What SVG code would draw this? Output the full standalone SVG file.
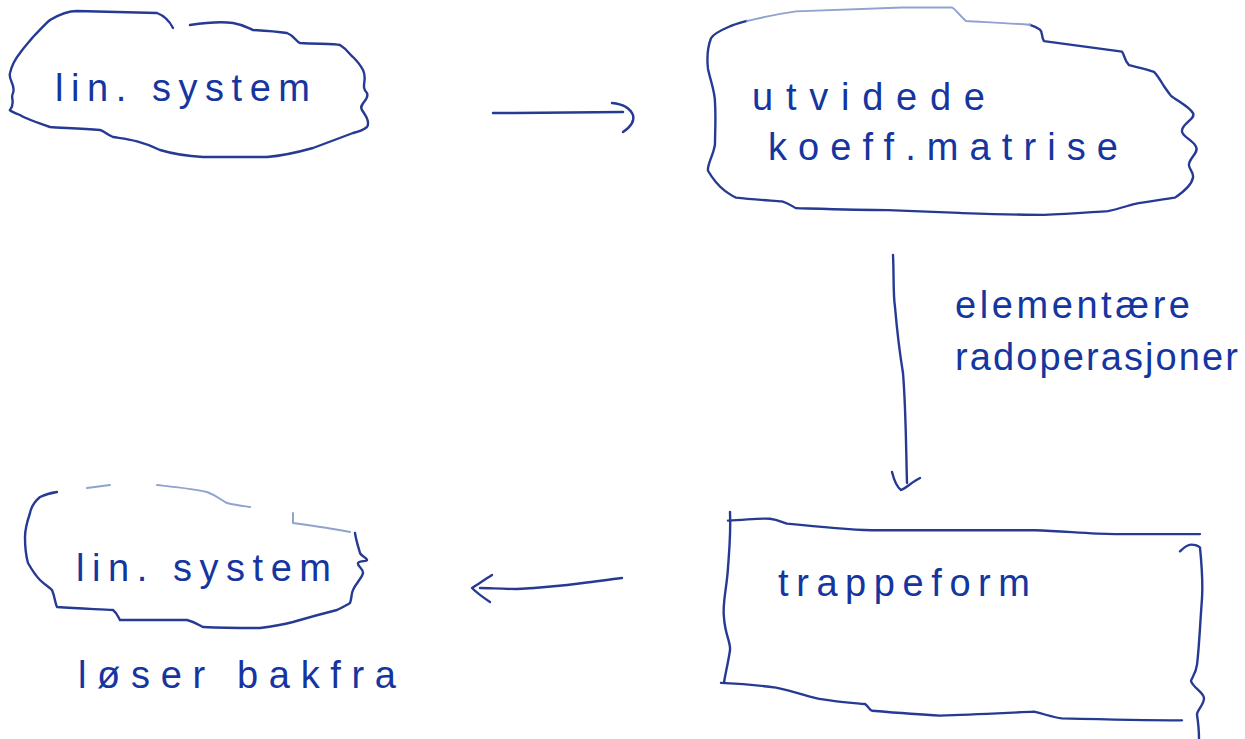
<svg xmlns="http://www.w3.org/2000/svg" width="1245" height="739" viewBox="0 0 1245 739">
<style>
.o{fill:none;stroke:#263a94;stroke-width:2.4;stroke-linecap:round;stroke-linejoin:round}
.f{fill:none;stroke:#8fa2d0;stroke-width:2;stroke-linecap:round}
.t{font-family:"Liberation Sans",Arial,sans-serif;font-size:38px;fill:#1535a0}
</style>
<rect width="1245" height="739" fill="#ffffff"/>
<g id="node-lin-system-1">
<path class="o" d="M50,20 C60,14 70,11 77,11 L157,13 C165,16 170,22 173,28 M190,25 C210,22 225,22 233,23 C245,25 250,29 253,30 C270,31 280,32 287,33 C295,36 296,42 300,43 C320,44 335,44 340,45 C348,50 350,55 353,57 C358,62 361,66 363,70 C368,80 360,86 367,93 C370,100 358,104 362,110 C366,116 370,122 367,127 C362,131 357,132 353,133 L313,148 C295,153 280,156 267,157 L203,157 C185,156 170,153 160,150 C140,140 125,139 113,137 C106,134 104,131 100,130 C80,128 60,128 50,127 C35,122 25,118 20,115 C12,112 9,110 10,110 C16,103 10,98 13,93 C16,85 8,80 10,73 C12,64 16,58 20,53 C25,46 30,41 33,37 C40,30 45,24 50,20"/>
<text class="t" x="55" y="101" textLength="255" lengthAdjust="spacing">lin. system</text>
</g>
<g id="node-utvidede">
<g transform="matrix(1,0,0,0.96,0,0.8)">
<path class="o" d="M747,21 C740,23 733,25 729,27 C720,31 713,35 711,39 C707,50 707,62 708,71 C711,85 715,95 715,106 C716,122 715,137 715,149 C714,160 707,170 708,177 C713,186 720,194 725,198 C729,201 733,204 736,205 C752,207 770,208 782,209 C789,211 792,214 796,216 C830,217 860,218 888,218 C915,219 940,220 959,221 C990,222 1020,223 1044,223 C1070,222 1092,220 1108,219 C1118,217 1126,214 1133,212 C1148,209 1163,207 1175,205 C1185,198 1192,190 1193,184 C1194,178 1188,175 1189,170 C1190,163 1199,158 1196,152 C1193,145 1181,141 1182,135 C1183,127 1196,123 1193,117 C1189,110 1177,104 1171,99 C1168,95 1166,92 1164,89 C1160,82 1157,77 1154,74 C1145,71 1136,69 1129,67 C1124,62 1125,57 1122,53 C1095,49 1065,45 1044,42 C1041,37 1043,33 1040,30 C1036,27 1033,26 1030,25"/>
<path class="f" d="M1030,25 C1005,23 980,22 966,21 C960,16 957,10 952,7 L902,7 L796,11 C775,14 760,18 747,21"/>
</g>
<text class="t" x="752" y="110" textLength="233" lengthAdjust="spacing">utvidede</text>
<text class="t" x="768" y="160" textLength="350" lengthAdjust="spacing">koeff.matrise</text>
</g>
<g id="node-trappeform">
<g transform="matrix(1,0,0,0.96,0,20.5)">
<path class="o" d="M728,521 C748,520 762,518 770,519 C778,520 783,523 787,524 C815,527 845,530 872,531 L1035,531 C1065,532 1090,535 1115,535 L1200,535"/>
<path class="o" d="M730,512 C731,535 729,555 728,570 C727,590 722,608 724,622 C725,640 731,648 730,656 C728,670 725,682 724,690"/>
<path class="o" d="M721,690 C742,691 762,693 776,695 C795,699 810,705 821,707 C838,710 855,711 865,712 C869,715 869,718 872,719 C895,721 920,723 940,724 C975,723 1010,721 1034,720 C1046,723 1054,726 1062,727 C1100,728 1145,729 1182,729"/>
<path class="o" d="M1180,553 C1184,549 1188,546 1191,546 C1196,546 1199,548 1200,549 C1202,570 1203,585 1202,602 C1200,630 1199,655 1197,671 C1196,680 1192,684 1191,688 C1193,695 1204,700 1204,706 C1204,713 1197,718 1197,723 C1198,730 1199,740 1199,748"/>
</g>
<text class="t" x="778" y="596" textLength="252" lengthAdjust="spacing">trappeform</text>
</g>
<g id="node-lin-system-2">
<path class="o" d="M57,492 C50,493 44,495 40,497 C34,502 31,508 30,513 C27,522 25,530 25,537 C25,548 26,556 28,563 C32,570 36,576 40,580 C45,585 49,587 52,590 C55,597 55,603 57,607 C80,609 100,609 113,610 C117,613 118,617 120,620 L187,620 C195,622 199,625 203,627 C225,628 245,628 260,628 C275,626 285,624 293,622 C310,617 325,613 337,610 C343,607 347,605 350,603 C352,598 351,594 353,590 C356,583 362,578 363,573 C363,568 357,566 358,563 C360,560 367,562 367,560 C366,557 361,556 360,553 C358,546 356,540 355,533"/>
<path class="f" d="M87,488 L110,485 M157,485 C175,487 195,489 207,492 C218,496 222,501 227,503 C235,505 243,506 250,507 M293,513 L293,523 C315,526 335,529 350,532"/>
<text class="t" x="76" y="581" textLength="255" lengthAdjust="spacing">lin. system</text>
<text class="t" x="78" y="688" textLength="318" lengthAdjust="spacing">løser bakfra</text>
</g>
<g id="connectors">
<path class="o" d="M493,113 C540,113 590,112 623,112"/>
<path class="o" d="M612,103 C622,104 630,108 633,115 C635,122 629,128 623,132"/>
<path class="o" d="M893,255 C894,275 893,295 895,307 C897,330 900,355 903,373 C906,410 906,450 907,483"/>
<path class="o" d="M892,472 C894,480 897,487 901,490 C906,488 912,482 920,478"/>
<path class="o" d="M622,578 C605,580 595,582 583,583 C560,586 535,588 517,589 C500,589 490,588 480,588"/>
<path class="o" d="M492,575 C484,580 477,585 472,588 C478,594 484,598 490,602"/>
<text class="t" x="955" y="318" textLength="235" lengthAdjust="spacing">elementære</text>
<text class="t" x="955" y="370" textLength="283" lengthAdjust="spacing">radoperasjoner</text>
</g>
</svg>
